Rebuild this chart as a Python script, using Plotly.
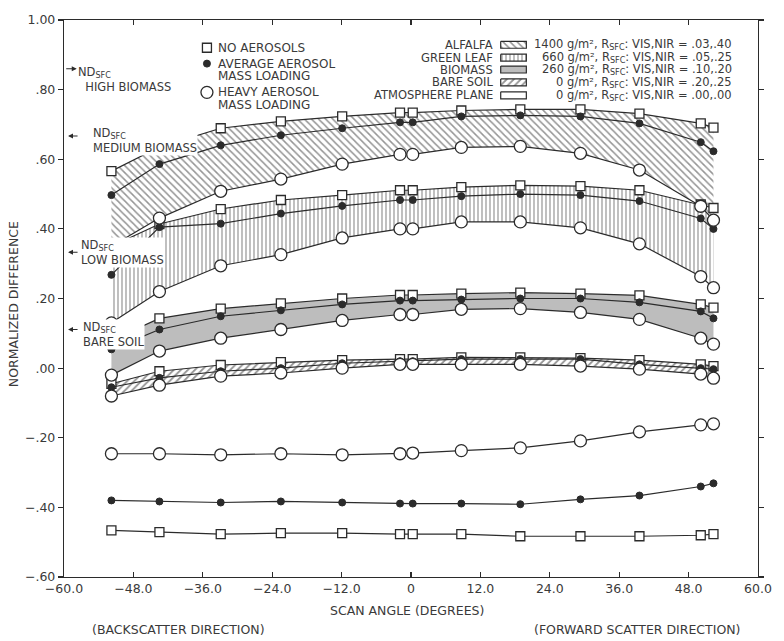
import plotly.graph_objects as go

# ---------------- data ----------------
ANGLES = [-51.8, -43.5, -32.9, -22.5, -11.9, -1.9, 0.3, 8.7, 18.9, 29.3, 39.5, 50.1, 52.3]

ALF_NA = [0.566, 0.635, 0.689, 0.709, 0.723, 0.734, 0.734, 0.740, 0.743, 0.743, 0.731, 0.703, 0.691]
ALF_AVG = [0.497, 0.586, 0.640, 0.669, 0.689, 0.706, 0.706, 0.723, 0.726, 0.723, 0.703, 0.649, 0.623]
ALF_HVY = [0.350, 0.431, 0.508, 0.543, 0.586, 0.614, 0.614, 0.634, 0.637, 0.617, 0.569, 0.465, 0.425]

GL_NA = [0.350, 0.414, 0.457, 0.483, 0.497, 0.511, 0.511, 0.520, 0.525, 0.523, 0.511, 0.470, 0.460]
GL_AVG = [0.268, 0.405, 0.415, 0.444, 0.466, 0.483, 0.483, 0.494, 0.500, 0.497, 0.480, 0.430, 0.400]
GL_HVY = [0.130, 0.220, 0.294, 0.326, 0.374, 0.400, 0.400, 0.420, 0.420, 0.403, 0.357, 0.263, 0.231]

BIO_NA = [0.080, 0.143, 0.171, 0.186, 0.200, 0.210, 0.210, 0.214, 0.217, 0.214, 0.209, 0.183, 0.174]
BIO_AVG = [0.054, 0.111, 0.149, 0.166, 0.183, 0.194, 0.194, 0.197, 0.200, 0.200, 0.189, 0.163, 0.143]
BIO_HVY = [-0.020, 0.049, 0.086, 0.111, 0.137, 0.154, 0.154, 0.169, 0.171, 0.160, 0.140, 0.086, 0.069]

BS_NA = [-0.045, -0.009, 0.009, 0.017, 0.023, 0.026, 0.026, 0.031, 0.031, 0.029, 0.023, 0.011, 0.006]
BS_AVG = [-0.055, -0.028, -0.009, 0.000, 0.014, 0.020, 0.020, 0.026, 0.026, 0.026, 0.011, 0.000, -0.003]
BS_HVY = [-0.080, -0.049, -0.023, -0.014, 0.000, 0.011, 0.011, 0.011, 0.011, 0.006, -0.003, -0.017, -0.029]

ATM_NA = [-0.466, -0.471, -0.477, -0.474, -0.474, -0.477, -0.477, -0.477, -0.483, -0.483, -0.483, -0.480, -0.477]
ATM_AVG = [-0.380, -0.383, -0.386, -0.383, -0.386, -0.389, -0.389, -0.389, -0.391, -0.377, -0.366, -0.340, -0.331]
ATM_HVY = [-0.246, -0.246, -0.249, -0.246, -0.249, -0.246, -0.244, -0.237, -0.229, -0.209, -0.183, -0.163, -0.160]

X_TICKS = [-60, -48, -36, -24, -12, 0, 12, 24, 36, 48, 60]
X_TICK_LABELS = ["\u221260.0", "\u221248.0", "\u221236.0", "\u221224.0", "\u221212.0", "0",
                 "12.0", "24.0", "36.0", "48.0", "60.0"]
Y_TICKS = [-0.6, -0.4, -0.2, 0.0, 0.2, 0.4, 0.6, 0.8, 1.0]
Y_TICK_LABELS = ["\u2212.60", "\u2212.40", "\u2212.20", ".00", ".20", ".40", ".60", ".80", "1.00"]

ND_SFC = [0.86, 0.667, 0.333, 0.111]
ND_NAMES = ["HIGH BIOMASS", "MEDIUM BIOMASS", "LOW BIOMASS", "BARE SOIL"]

SURFACES = ["ALFALFA", "GREEN LEAF", "BIOMASS", "BARE SOIL", "ATMOSPHERE PLANE"]
SURFACE_INFO = [
    "1400 g/m\u00b2, R<sub>SFC</sub>: VIS,NIR = .03,.40",
    "660 g/m\u00b2, R<sub>SFC</sub>: VIS,NIR = .05,.25",
    "260 g/m\u00b2, R<sub>SFC</sub>: VIS,NIR = .10,.20",
    "0 g/m\u00b2, R<sub>SFC</sub>: VIS,NIR = .20,.25",
    "0 g/m\u00b2, R<sub>SFC</sub>: VIS,NIR = .00,.00",
]
AEROSOL_LABELS = [["NO AEROSOLS"], ["AVERAGE AEROSOL", "MASS LOADING"], ["HEAVY AEROSOL", "MASS LOADING"]]

X_TITLE = "SCAN ANGLE (DEGREES)"
Y_TITLE = "NORMALIZED DIFFERENCE"
X_LEFT_NOTE = "(BACKSCATTER DIRECTION)"
X_RIGHT_NOTE = "(FORWARD SCATTER DIRECTION)"

# ---------------- styles ----------------
INK = "#2b2b2b"
TXT = "#3a3a3a"
FONT = "DejaVu Sans"
GRAY = "#bdbdbd"

PATTERNS = [
    dict(shape="\\", fgcolor=INK, bgcolor="white", size=5, solidity=0.3),
    dict(shape="|", fgcolor=INK, bgcolor="white", size=4, solidity=0.3),
    None,
    dict(shape="/", fgcolor=INK, bgcolor="white", size=5, solidity=0.35),
    None,
]
FILLS = ["white", "white", GRAY, "white", "white"]

MARKERS = [
    dict(symbol="square", size=9, color="white", line=dict(color=INK, width=1.3)),
    dict(symbol="circle", size=7, color=INK, line=dict(color=INK, width=1)),
    dict(symbol="circle", size=12, color="white", line=dict(color=INK, width=1.3)),
]

PX_L, PX_R, PX_T, PX_B = 64, 768, 15, 577
FIG_W, FIG_H = 784, 641


def px_x(px):
    return (px - PX_L) / (PX_R - PX_L)


def px_y(py):
    return (PX_B - py) / (PX_B - PX_T)


fig = go.Figure()

groups = [
    (ALF_NA, ALF_AVG, ALF_HVY),
    (GL_NA, GL_AVG, GL_HVY),
    (BIO_NA, BIO_AVG, BIO_HVY),
    (BS_NA, BS_AVG, BS_HVY),
    (ATM_NA, ATM_AVG, ATM_HVY),
]

# bands (drawn bottom-most first so alfalfa sits on top)
for i in [3, 2, 1, 0]:
    top, _, bot = groups[i]
    kw = {}
    if PATTERNS[i] is not None:
        kw["fillpattern"] = PATTERNS[i]
    fig.add_trace(go.Scatter(
        x=ANGLES + ANGLES[::-1], y=top + bot[::-1], fill="toself",
        fillcolor=FILLS[i], mode="lines", line=dict(width=0, color="rgba(0,0,0,0)"),
        hoverinfo="skip", showlegend=False, **kw))

# lines + markers
for i in [4, 3, 2, 1, 0]:
    for j in range(3):
        fig.add_trace(go.Scatter(
            x=ANGLES, y=groups[i][j], mode="lines+markers",
            line=dict(color=INK, width=1.2), marker=MARKERS[j],
            showlegend=False, hoverinfo="skip", cliponaxis=False))

# aerosol marker legend (on pixel overlay axes)
aer_y = [43, 59, 88]
for j in range(3):
    fig.add_trace(go.Scatter(x=[209], y=[aer_y[j]], xaxis="x2", yaxis="y2", mode="markers",
                             marker=MARKERS[j], showlegend=False, hoverinfo="skip"))

annotations = []


def text_ann(px, py, text, xanchor="left", size=11.5, **kw):
    d = dict(x=px_x(px), y=px_y(py), xref="paper", yref="paper", text=text, showarrow=False,
             xanchor=xanchor, yanchor="middle", font=dict(family=FONT, size=size, color=TXT))
    d.update(kw)
    annotations.append(d)


for j, lines in enumerate(AEROSOL_LABELS):
    for k, t in enumerate(lines):
        text_ann(218, aer_y[j] + 12.5 * k, t, size=12)

# surface legend
row_y = [40, 53, 65, 78, 91]
for i in range(5):
    y0, y1 = row_y[i] - 3.5, row_y[i] + 3.5
    kw = {}
    if PATTERNS[i] is not None:
        kw["fillpattern"] = dict(PATTERNS[i])
    fig.add_trace(go.Scatter(x=[507, 533, 533, 507, 507], y=[y0, y0, y1, y1, y0],
                             xaxis="x2", yaxis="y2", fill="toself", fillcolor=FILLS[i],
                             mode="lines", line=dict(color=INK, width=1.2),
                             showlegend=False, hoverinfo="skip", **kw))
    text_ann(501, row_y[i], SURFACES[i], xanchor="right")
    text_ann(744, row_y[i], SURFACE_INFO[i], xanchor="right")

# ND_SFC arrows and labels (one white-backed block per label)
nd_text_pos = [(77, 75), (92, 137), (80, 250), (82, 332)]
nd_indent = ["\u00a0\u00a0", "", "", ""]
for i, v in enumerate(ND_SFC):
    if i == 0:
        annotations.append(dict(x=-57.8, y=v, xref="x", yref="y", ax=-12, ay=0, text="",
                                showarrow=True, arrowhead=2, arrowsize=0.9, arrowwidth=1.1,
                                arrowcolor=INK))
    else:
        annotations.append(dict(x=-59.3, y=v, xref="x", yref="y", ax=11, ay=0, text="",
                                showarrow=True, arrowhead=2, arrowsize=0.9, arrowwidth=1.1,
                                arrowcolor=INK))
    nx, ny = nd_text_pos[i]
    text_ann(nx, ny, "ND<sub>SFC</sub><br>" + nd_indent[i] + ND_NAMES[i], bgcolor="white",
             borderpad=0, align="left")

# axis titles and direction notes
text_ann(13, 302, Y_TITLE, xanchor="center", size=12.5, textangle=-90)
text_ann(412, 611, X_TITLE, xanchor="center", size=12.5)
text_ann(180, 630, X_LEFT_NOTE, xanchor="center", size=12.5)
text_ann(645, 630, X_RIGHT_NOTE, xanchor="center", size=12.5)

axis_common = dict(showgrid=False, zeroline=False, showline=True, linecolor=INK, linewidth=1.2,
                   mirror="ticks", tickcolor=INK, ticklen=5, tickwidth=1.1,
                   tickfont=dict(family=FONT, size=12.5, color=TXT))

fig.update_layout(
    width=FIG_W, height=FIG_H,
    margin=dict(l=PX_L, r=FIG_W - PX_R, t=PX_T, b=FIG_H - PX_B),
    paper_bgcolor="white", plot_bgcolor="white",
    showlegend=False,
    xaxis=dict(range=[-60, 60], tickvals=X_TICKS, ticktext=X_TICK_LABELS, ticks="inside",
               **axis_common),
    yaxis=dict(range=[-0.6, 1.0], tickvals=Y_TICKS, ticktext=Y_TICK_LABELS, ticks="outside",
               **axis_common),
    xaxis2=dict(range=[PX_L, PX_R], overlaying="x", visible=False, fixedrange=True),
    yaxis2=dict(range=[PX_B, PX_T], overlaying="y", visible=False, fixedrange=True),
    annotations=annotations,
)

POST = ("document.documentElement.style.cssText='margin:0;padding:0;overflow:hidden;';"
        "document.body.style.cssText='margin:0;padding:0;overflow:hidden;';")

fig.write_html("out.html", config={"displayModeBar": False, "staticPlot": True},
               post_script=POST)
